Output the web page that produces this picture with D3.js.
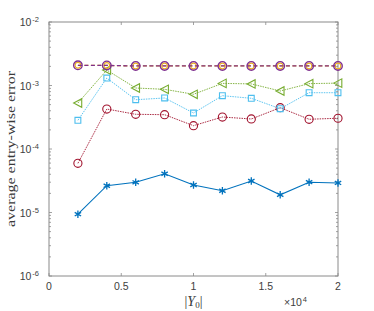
<html>
<head>
  <meta charset="utf-8">
  <script src="https://d3js.org/d3.v7.min.js"></script>
  <style>
    body { margin: 0; background: #fff; }
    .tick-label { font-family: "Liberation Sans", Arial, sans-serif; font-size: 10.5px; fill: #404040; }
    .tex { font-family: "Liberation Serif", "DejaVu Serif", serif; fill: #3a3a3a; }
  </style>
</head>
<body>
  <svg id="chart" width="374" height="311"></svg>
  <script>
    // x values in units of 10^4
    const sizes = [0.2, 0.4, 0.6, 0.8, 1.0, 1.2, 1.4, 1.6, 1.8, 2.0];

    const errStar = [9.4e-6, 2.64e-5, 2.99e-5, 4.08e-5, 2.71e-5, 2.2e-5, 3.13e-5, 1.9e-5, 3.0e-5, 2.92e-5];
    const errRed = [5.95e-5, 4.26e-4, 3.52e-4, 3.47e-4, 2.33e-4, 3.19e-4, 2.97e-4, 4.47e-4, 2.94e-4, 3.05e-4];
    const errSquare = [2.83e-4, 1.31e-3, 5.97e-4, 6.36e-4, 3.69e-4, 6.91e-4, 6.29e-4, 4.31e-4, 7.7e-4, 7.7e-4];
    const errTriangle = [5.3e-4, 1.75e-3, 9.13e-4, 8.71e-4, 7.27e-4, 1.08e-3, 1.06e-3, 8.19e-4, 1.07e-3, 1.09e-3];
    const errOrange = [2.08e-3, 2.07e-3, 2.03e-3, 2.03e-3, 2.03e-3, 2.03e-3, 2.03e-3, 2.03e-3, 2.03e-3, 2.03e-3];
    const errPurple = [2.08e-3, 2.07e-3, 2.03e-3, 2.03e-3, 2.03e-3, 2.03e-3, 2.03e-3, 2.03e-3, 2.03e-3, 2.03e-3];

    const xTicks = [0, 0.5, 1, 1.5, 2];
    const xTickLabels = ["0", "0.5", "1", "1.5", "2"];
    const yTickExponents = [-6, -5, -4, -3, -2];

    const svg = d3.select("svg#chart");
    const margins = { top: 22, right: 36, bottom: 35, left: 49 };
    const width = 374 - margins.left - margins.right;
    const height = 311 - margins.top - margins.bottom;

    const xScale = d3.scaleLinear().domain([0, 2]).range([0, width]);
    const yScale = d3.scaleLog().domain([1e-6, 1e-2]).range([height, 0]);

    const g = svg.append("g").attr("transform", `translate(${margins.left},${margins.top})`);

    // minor log ticks
    let minorTicks = [];
    for (let e = -6; e < -2; e++) {
      for (let m = 2; m <= 9; m++) minorTicks.push(m * Math.pow(10, e));
    }

    const axisColor = "#8a8a8a";

    // box
    g.append("rect")
      .attr("x", 0).attr("y", 0)
      .attr("width", width).attr("height", height)
      .attr("fill", "none")
      .attr("stroke", axisColor)
      .attr("stroke-width", 1);

    // y ticks (left + right, inward)
    const tickG = g.append("g").attr("stroke", axisColor).attr("stroke-width", 0.8);
    yTickExponents.forEach(e => {
      const y = yScale(Math.pow(10, e));
      tickG.append("line").attr("x1", 0).attr("x2", 3).attr("y1", y).attr("y2", y);
      tickG.append("line").attr("x1", width).attr("x2", width - 3).attr("y1", y).attr("y2", y);
    });
    minorTicks.forEach(v => {
      const y = yScale(v);
      tickG.append("line").attr("x1", 0).attr("x2", 2).attr("y1", y).attr("y2", y);
      tickG.append("line").attr("x1", width).attr("x2", width - 2).attr("y1", y).attr("y2", y);
    });

    // x ticks (bottom + top, inward)
    xTicks.forEach(v => {
      const x = xScale(v);
      tickG.append("line").attr("x1", x).attr("x2", x).attr("y1", height).attr("y2", height - 3);
      tickG.append("line").attr("x1", x).attr("x2", x).attr("y1", 0).attr("y2", 3);
    });

    // y tick labels
    yTickExponents.forEach(e => {
      const t = g.append("text")
        .attr("class", "tick-label")
        .attr("x", -10)
        .attr("y", yScale(Math.pow(10, e)) + 4)
        .attr("text-anchor", "end");
      t.append("tspan").text("10");
      t.append("tspan").attr("dy", -4).attr("dx", 1).style("font-size", "7.5px").text(e);
    });

    // x tick labels
    xTicks.forEach((v, i) => {
      g.append("text")
        .attr("class", "tick-label")
        .attr("x", xScale(v))
        .attr("y", height + 14)
        .attr("text-anchor", "middle")
        .text(xTickLabels[i]);
    });

    // x exponent
    const xe = g.append("text")
      .attr("class", "tick-label")
      .attr("x", width - 31)
      .attr("y", height + 30)
      .attr("text-anchor", "end");
    xe.append("tspan").text("\u00d710");
    xe.append("tspan").attr("dy", -4).attr("dx", 1).style("font-size", "7.5px").text("4");

    // axis labels
    const xl = g.append("text")
      .attr("class", "tex")
      .attr("x", width / 2)
      .attr("y", height + 30)
      .attr("text-anchor", "middle")
      .style("font-size", "14px");
    xl.append("tspan").text("|");
    xl.append("tspan").style("font-style", "italic").text("Y");
    xl.append("tspan").attr("dy", 2).style("font-size", "9px").text("0");
    xl.append("tspan").attr("dy", -2).text("|");

    g.append("text")
      .attr("class", "tex")
      .attr("transform", `translate(${-34},${height / 2}) rotate(-90)`)
      .attr("text-anchor", "middle")
      .attr("textLength", 156)
      .attr("lengthAdjust", "spacingAndGlyphs")
      .style("font-size", "13px")
      .text("average entry-wise error");

    // series
    const line = d3.line().x(d => xScale(d[0])).y(d => yScale(d[1]));
    const pairs = arr => sizes.map((s, i) => [s, arr[i]]);

    const triangleLeft = {
      draw(context, size) {
        const r = Math.sqrt(size) / 2;
        context.moveTo(-r, 0);
        context.lineTo(r * 0.9, -r);
        context.lineTo(r * 0.9, r);
        context.closePath();
      }
    };

    function drawSeries(data, color, dash, lw, marker) {
      const pts = pairs(data);
      g.append("path")
        .datum(pts)
        .attr("d", line)
        .attr("fill", "none")
        .attr("stroke", color)
        .attr("stroke-width", lw)
        .attr("stroke-dasharray", dash);
      g.append("g").selectAll("path.marker").data(pts).join("path")
        .attr("class", "marker")
        .attr("transform", d => `translate(${xScale(d[0])},${yScale(d[1])})`)
        .attr("fill", "none")
        .attr("stroke", color)
        .attr("stroke-width", marker.sw)
        .attr("d", d3.symbol().type(marker.type).size(marker.size));
    }

    drawSeries(errStar, "#0072BD", null, 1.1, { type: d3.symbolAsterisk, size: 38, sw: 1.3 });
    drawSeries(errRed, "#A2142F", "1.5,1", 0.9, { type: d3.symbolCircle, size: 52, sw: 1.1 });
    drawSeries(errSquare, "#4DBEEE", "1.5,1", 0.9, { type: d3.symbolSquare, size: 34, sw: 1.1 });
    drawSeries(errTriangle, "#77AC30", "1.5,1", 0.9, { type: triangleLeft, size: 72, sw: 1.1 });
    drawSeries(errOrange, "#EDB120", "4,2.5", 1.3, { type: d3.symbolCircle, size: 26, sw: 1.2 });
    drawSeries(errPurple, "#7E2F8E", "4,2.5", 1.3, { type: d3.symbolCircle, size: 58, sw: 1.3 });
  </script>
</body>
</html>
